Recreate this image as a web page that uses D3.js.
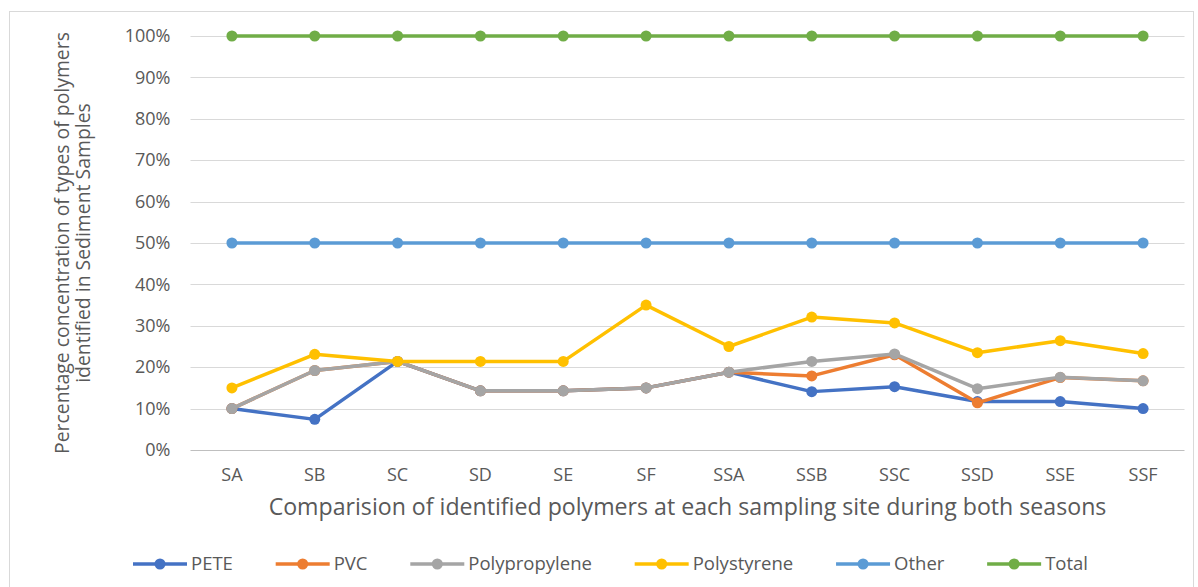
<!DOCTYPE html>
<html>
<head>
<meta charset="utf-8">
<script src="https://cdn.jsdelivr.net/npm/d3@7"></script>
<style>
  html, body { margin: 0; padding: 0; background: #fff; }
  svg { display: block; }
  text { font-family: "Open Sans", "Noto Sans", sans-serif; fill: #595959; }
</style>
</head>
<body>
<svg id="chart" width="1198" height="587"></svg>
<script>
// Sampling sites (first season S*, second season SS*)
const sites = ["SA", "SB", "SC", "SD", "SE", "SF", "SSA", "SSB", "SSC", "SSD", "SSE", "SSF"];

// Percentage share of each polymer type per site
const pete          = [10, 7.4, 21.4, 14.3, 14.3, 15, 18.8, 14.1, 15.3, 11.7, 11.7, 10];
const pvc           = [10, 19.2, 21.4, 14.3, 14.3, 15, 18.8, 17.9, 23.0, 11.4, 17.5, 16.7];
const polypropylene = [10, 19.2, 21.4, 14.3, 14.3, 15, 18.8, 21.4, 23.2, 14.8, 17.6, 16.7];
const polystyrene   = [15, 23.1, 21.4, 21.4, 21.4, 35, 25, 32.1, 30.7, 23.5, 26.4, 23.3];
const other         = [50, 50, 50, 50, 50, 50, 50, 50, 50, 50, 50, 50];
const total         = [100, 100, 100, 100, 100, 100, 100, 100, 100, 100, 100, 100];

const yTicks = [0, 10, 20, 30, 40, 50, 60, 70, 80, 90, 100];

const seriesNames  = ["PETE", "PVC", "Polypropylene", "Polystyrene", "Other", "Total"];
const seriesValues = [pete, pvc, polypropylene, polystyrene, other, total];
const seriesColors = ["#4472C4", "#ED7D31", "#A5A5A5", "#FFC000", "#5B9BD5", "#70AD47"];

const yTitleLines = ["Percentage concentration of types of polymers", "identified in Sediment Samples"];
const xTitle = "Comparision of identified polymers at each sampling site during both seasons";

const svg = d3.select("#chart");

// shrink/grow a text's font so that it spans the given width
function fitWidth(sel, width) {
  const fs = parseFloat(sel.attr("font-size"));
  const w = sel.node().getComputedTextLength();
  sel.attr("font-size", (fs * width / w).toFixed(2));
}

// chart frame
svg.append("rect")
  .attr("x", 9.5).attr("y", 11.5)
  .attr("width", 1184).attr("height", 600)
  .attr("fill", "none").attr("stroke", "#D9D9D9").attr("stroke-width", 1);

const plot = { left: 190.5, right: 1184.5, top: 36, bottom: 450 };

const x = d3.scaleBand().domain(sites).range([plot.left, plot.right]);
const y = d3.scaleLinear().domain([0, 100]).range([plot.bottom, plot.top]);
const cx = d => x(d) + x.bandwidth() / 2;

// horizontal gridlines
svg.append("g").selectAll("line").data(yTicks).join("line")
  .attr("x1", plot.left).attr("x2", plot.right)
  .attr("y1", d => Math.round(y(d)) + 0.5).attr("y2", d => Math.round(y(d)) + 0.5)
  .attr("stroke", d => d === 0 ? "#BFBFBF" : "#D9D9D9").attr("stroke-width", 1);

// y axis labels
const yAxis = d3.axisLeft(y).tickValues(yTicks).tickFormat(d => d + "%").tickSize(0).tickPadding(0);
const yg = svg.append("g").attr("transform", `translate(${plot.left - 20},0)`).call(yAxis);
yg.select(".domain").remove();
yg.selectAll("text").attr("font-size", 18).attr("fill", "#595959")
  .style("font-family", "'Open Sans', sans-serif");

// x axis labels
const xAxis = d3.axisBottom(x).tickSize(0).tickPadding(0);
const xg = svg.append("g").attr("transform", `translate(0,${plot.bottom + 25})`).call(xAxis);
xg.select(".domain").remove();
xg.selectAll("text").attr("font-size", 18).attr("fill", "#595959").attr("dy", "0.35em")
  .style("font-family", "'Open Sans', sans-serif");

// axis titles
const xt = svg.append("text")
  .attr("x", (plot.left + plot.right) / 2).attr("y", 507).attr("dy", "0.35em")
  .attr("text-anchor", "middle").attr("font-size", 20)
  .text(xTitle);
fitWidth(xt, 838);

const yt = svg.append("text")
  .attr("transform", `translate(0,${(plot.top + plot.bottom) / 2}) rotate(-90)`)
  .attr("text-anchor", "middle").attr("font-size", 19);
const yLines = yTitleLines.map((t, i) =>
  yt.append("tspan").attr("x", 0).attr("y", 62 + i * 21).attr("dy", "0.35em").text(t));
{
  const w = yLines[0].node().getComputedTextLength();
  yt.attr("font-size", (19 * 422 / w).toFixed(2));
}

// series lines and markers
const line = d3.line().x((d, i) => cx(sites[i])).y(d => y(d));
seriesValues.forEach((vals, s) => {
  const g = svg.append("g");
  g.append("path").datum(vals)
    .attr("d", line)
    .attr("fill", "none").attr("stroke", seriesColors[s])
    .attr("stroke-width", 3.5).attr("stroke-linejoin", "round").attr("stroke-linecap", "round");
  g.selectAll("circle").data(vals).join("circle")
    .attr("cx", (d, i) => cx(sites[i])).attr("cy", d => y(d))
    .attr("r", 5.5).attr("fill", seriesColors[s]);
});

// legend, spread between its outer edges with equal gaps
const legendLeft = 133, legendRight = 1088, keyLen = 54, keyGap = 4;
const legend = svg.append("g").attr("transform", "translate(0,564)");
const items = seriesNames.map((name, s) => {
  const item = legend.append("g");
  item.append("line").attr("x1", 0).attr("x2", keyLen).attr("y1", 0).attr("y2", 0)
    .attr("stroke", seriesColors[s]).attr("stroke-width", 3.5);
  item.append("circle").attr("cx", keyLen / 2).attr("cy", 0).attr("r", 5.5).attr("fill", seriesColors[s]);
  const t = item.append("text").attr("x", keyLen + keyGap).attr("y", 0).attr("dy", "0.35em")
    .attr("font-size", 18.5).text(name);
  return { item, w: keyLen + keyGap + t.node().getComputedTextLength() };
});
const used = d3.sum(items, d => d.w);
const gap = (legendRight - legendLeft - used) / (items.length - 1);
let lx = legendLeft;
items.forEach(d => {
  d.item.attr("transform", `translate(${lx},0)`);
  lx += d.w + gap;
});
</script>
</body>
</html>
